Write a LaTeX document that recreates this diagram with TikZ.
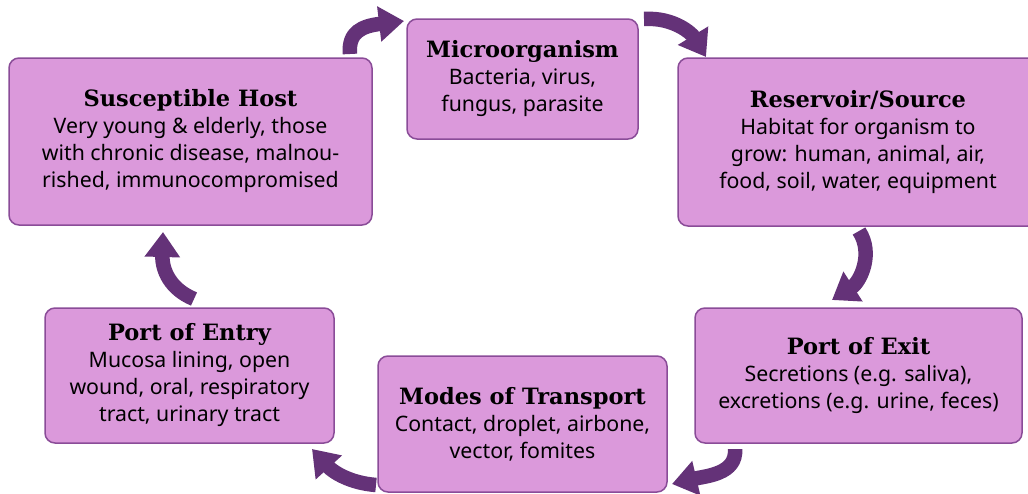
\documentclass[tikz,border=0pt]{standalone}
\usepackage{fontspec}
\setmainfont{Noto Sans}
\newfontfamily\ttlfont{DejaVu Serif}
\usetikzlibrary{arrows.meta}
\definecolor{boxfill}{HTML}{DB99DB}
\definecolor{boxline}{HTML}{8A4C98}
\definecolor{arrowc}{HTML}{643278}
\newcommand{\ttl}[1]{{\ttlfont\bfseries\fontsize{22.5}{27}\selectfont #1}}
\tikzset{
  box/.style={draw=boxline, line width=1.5pt, fill=boxfill, rounded corners=10pt,
    align=center, inner sep=0pt, font=\fontsize{21.3}{27}\selectfont, text=black},
  cyc/.style={draw=arrowc, line width=14.5pt, -{Triangle[width=34pt,length=25pt]}}
}
\begin{document}
\begin{tikzpicture}[x=1pt,y=-1pt]
\path[use as bounding box] (0,0) rectangle (1028,493);
\clip (0,0) rectangle (1028,493);
\node[box, minimum width=231pt, minimum height=120pt] (micro) at (522.5,79)
  {\ttl{Microorganism}\\Bacteria, virus,\\fungus, parasite};
\node[box, minimum width=360pt, minimum height=168pt] (res) at (858,142)
  {\ttl{Reservoir/Source}\\Habitat for organism to\\grow: human, animal, air,\\food, soil, water, equipment};
\node[box, minimum width=327pt, minimum height=135pt] (exit) at (858.5,375.5)
  {\ttl{Port of Exit}\\Secretions (e.g. saliva),\\excretions (e.g. urine, feces)};
\node[box, minimum width=289pt, minimum height=136pt] (trans) at (522.5,424)
  {\ttl{Modes of Transport}\\Contact, droplet, airbone,\\vector, fomites};
\node[box, minimum width=289pt, minimum height=135pt] (entry) at (189.5,375.5)
  {\ttl{Port of Entry}\\Mucosa lining, open\\wound, oral, respiratory\\tract, urinary tract};
\node[box, minimum width=363pt, minimum height=167pt] (host) at (190.5,141.5)
  {\ttl{Susceptible Host}\\Very young \& elderly, those\\with chronic disease, malnou-\\rished, immunocompromised};
% arrow end points
\coordinate (a1s) at (350,54);  \coordinate (a1e) at (404,21);
\coordinate (a2s) at (644,19);  \coordinate (a2e) at (706,57);
\coordinate (a3s) at (859,231); \coordinate (a3e) at (832,300);
\coordinate (a4s) at (735,449); \coordinate (a4e) at (672,484);
\coordinate (a5s) at (376,485); \coordinate (a5e) at (312,449);
\coordinate (a6s) at (194,299); \coordinate (a6e) at (163,232);
\draw[cyc] (a1s) .. controls (348,32) and (362,26) .. (a1e);
\draw[cyc] (a2s) .. controls (674,17) and (692,34) .. (a2e);
\draw[cyc] (a3s) .. controls (874,254) and (860,282) .. (a3e);
\draw[cyc] (a4s) .. controls (737,474) and (706,476) .. (a4e);
\draw[cyc] (a5s) .. controls (350,483) and (333,472) .. (a5e);
\draw[cyc] (a6s) .. controls (170,289) and (162,270) .. (a6e);
\end{tikzpicture}
\end{document}
